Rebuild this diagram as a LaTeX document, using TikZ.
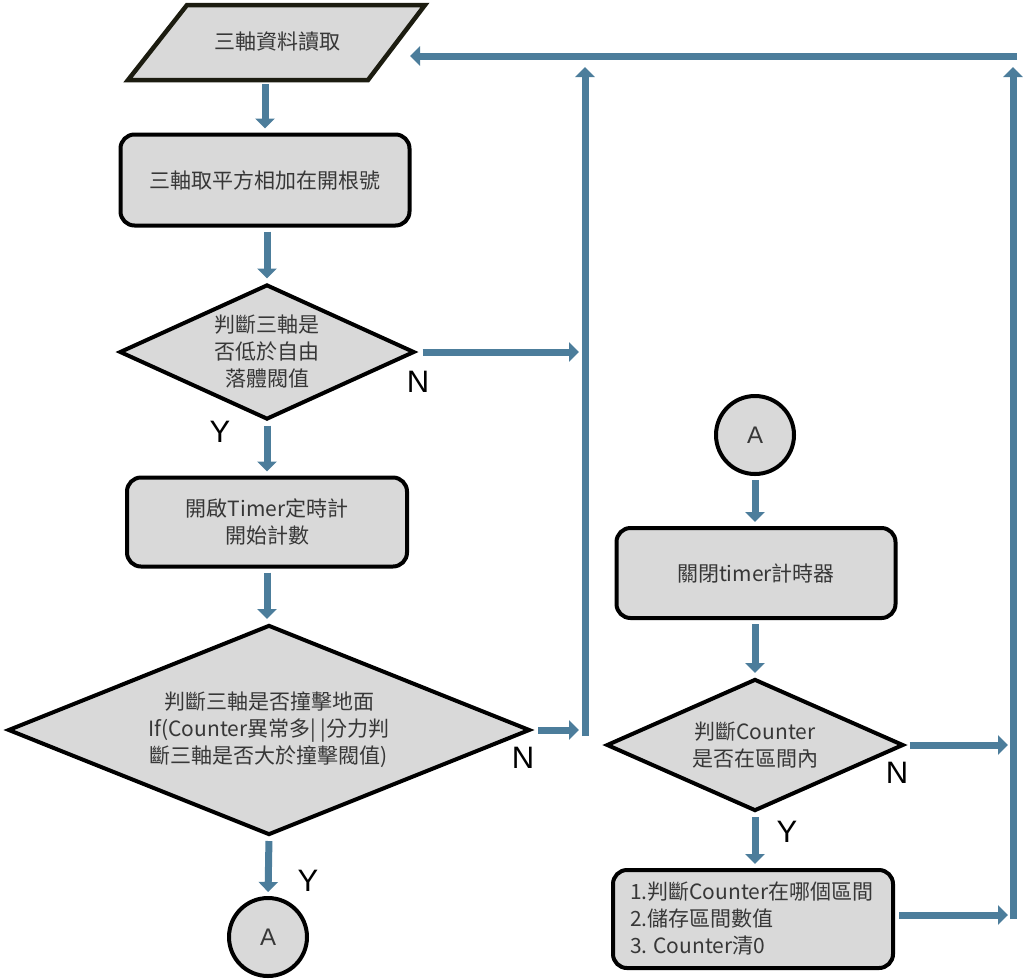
\documentclass[tikz,border=0pt]{standalone}
\usepackage{fontspec}
\setmainfont{Noto Sans CJK TC}
\newfontfamily\ynfont{Liberation Sans}
\usepackage{tikz}
\usetikzlibrary{arrows.meta,shapes.geometric}
\definecolor{flowblue}{RGB}{76,125,155}
\definecolor{boxgray}{RGB}{217,217,217}
\definecolor{txtgray}{RGB}{55,55,55}
\definecolor{ioedge}{RGB}{28,28,16}

\begin{document}
\begin{tikzpicture}[x=1pt,y=-1pt,
    every node/.style={font=\fontsize{21}{27}\selectfont, text=txtgray},
    procbox/.style={draw=black, line width=4pt, fill=boxgray, rounded corners=14pt, align=center},
    decbox/.style={diamond, draw=black, line width=4pt, fill=boxgray, align=center, inner sep=0pt},
    conn/.style={circle, draw=black, line width=4pt, fill=boxgray, minimum size=78pt, inner sep=0pt, font=\ynfont\fontsize{24}{24}\selectfont},
    flow/.style={draw=flowblue, line width=7pt, -{Triangle[length=10pt,width=19pt]}},
    link/.style={flow, shorten <=4pt, shorten >=4pt},
    yn/.style={font=\ynfont\fontsize{31}{31}\selectfont, text=black}]
    \useasboundingbox (0,0) rectangle (1024,978);

    % left column
    \draw[draw=ioedge, line width=4.5pt, fill=boxgray] (187,5) -- (425,5) -- (368,80) -- (128,80) -- cycle;
    \node[minimum width=240pt, minimum height=76pt] (read) at (277,42) {三軸資料讀取};
    \node[procbox, minimum width=289pt, minimum height=91pt] (sqr) at (265,180) {三軸取平方相加在開根號};
    \node[decbox, aspect=2.19, minimum width=295pt, minimum height=135pt] (chk1) at (267,352) {判斷三軸是\\否低於自由\\落體閥值};
    \node[procbox, minimum width=280pt, minimum height=89pt] (timer) at (267,522) {開啟Timer定時計\\開始計數};
    \node[decbox, aspect=2.49, minimum width=522pt, minimum height=210pt] (chk2) at (269,730) {判斷三軸是否撞擊地面\\If(Counter異常多| |分力判\\斷三軸是否大於撞擊閥值)};
    \node[conn] (endA) at (268,937) {A};

    % right column
    \node[conn] (startA) at (755,435) {A};
    \node[procbox, minimum width=279pt, minimum height=90pt] (stop) at (756,573) {關閉timer計時器};
    \node[decbox, aspect=2.25, minimum width=297pt, minimum height=132pt] (chk3) at (755,745) {判斷Counter\\是否在區間內};
    \node[procbox, align=left, minimum width=280pt, minimum height=98pt, text width=246pt] (store) at (753,919) {1.判斷Counter在哪個區間\\2.儲存區間數值\\3.\hspace{6pt}Counter清0};

    % labels
    \node[yn] (n1) at (418,382) {N};
    \node[yn] (y1) at (220,432) {Y};
    \node[yn] (n2) at (523,758) {N};
    \node[yn] (y2) at (308,881) {Y};
    \node[yn] (n3) at (897,773) {N};
    \node[yn] (y3) at (787,832) {Y};

    % loop points
    \coordinate (in1) at (579,352);
    \coordinate (in2) at (579,730);
    \coordinate (lowL) at (585,736);
    \coordinate (topL) at (585,67);
    \coordinate (in3) at (1008,745);
    \coordinate (in4) at (1008,915);
    \coordinate (lowR) at (1013,919);
    \coordinate (topR) at (1013,67);
    \coordinate (backR) at (1017,56);
    \coordinate (backL) at (410,56);

    \draw[link] (read.south -| sqr.north) -- (sqr.north);
    \draw[link] (sqr.south -| chk1.north) -- (chk1.north);
    \draw[link] (chk1.south) -- (timer.north);
    \draw[link] (timer.south) -- (chk2.north -| timer.south);
    \draw[link] (chk2.south) -- (endA.north);
    \draw[flow, shorten <=6pt] (chk1.east) -- (in1);
    \draw[flow, shorten <=6pt] (chk2.east) -- (in2);
    \draw[flow] (lowL) -- (topL);

    \draw[link] (startA.south) -- (stop.north -| startA.south);
    \draw[link] (stop.south -| chk3.north) -- (chk3.north);
    \draw[link] (chk3.south) -- (store.north -| chk3.south);
    \draw[flow, shorten <=4pt] (chk3.east) -- (in3);
    \draw[flow, shorten <=4pt] (store.east |- in4) -- (in4);
    \draw[flow] (lowR) -- (topR);
    \draw[flow] (backR) -- (backL);
\end{tikzpicture}
\end{document}
